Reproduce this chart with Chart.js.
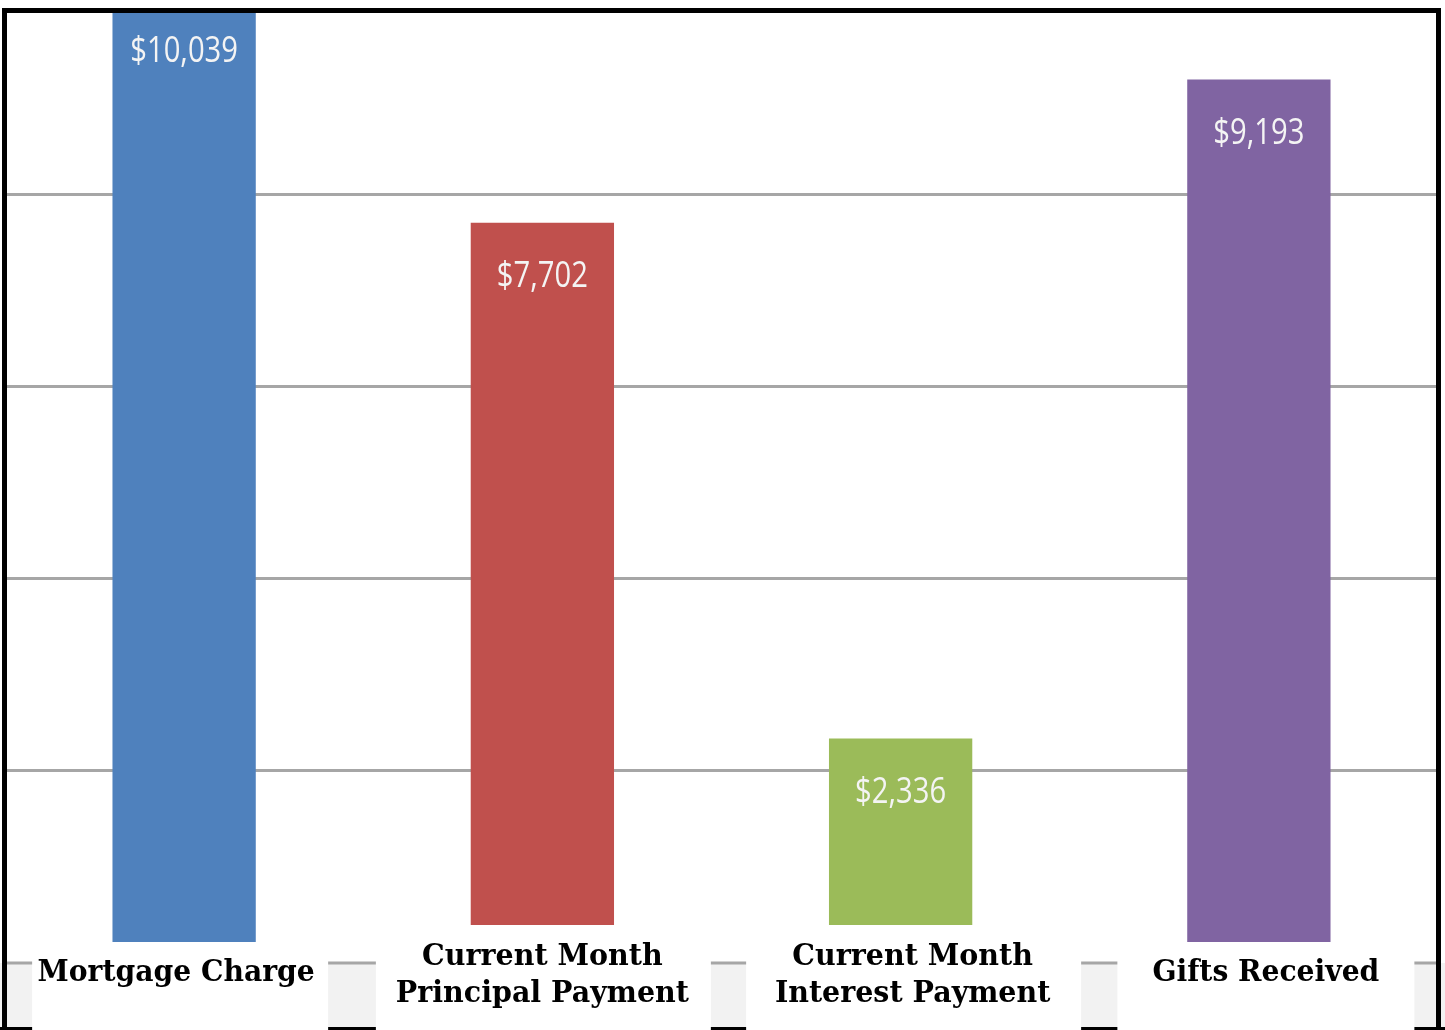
<!DOCTYPE html>
<html>
<head>
<meta charset="utf-8">
<script src="https://cdn.jsdelivr.net/npm/chart.js@4"></script>
<style>
  html, body { margin: 0; padding: 0; background: #fff; }
  #wrap { width: 1445px; height: 1030px; position: relative; }
</style>
</head>
<body>
<div id="wrap"><canvas id="myChart"></canvas></div>
<script>
// data
const categories = [
  ["Mortgage Charge"],
  ["Current Month", "Principal Payment"],
  ["Current Month", "Interest Payment"],
  ["Gifts Received"],
];
const amounts = [10039, 7702, 2336, 9193];
const barColors = ["#4f81bd", "#c0504d", "#9bbb59", "#8064a2"];
const yTicks = [0, 2000, 4000, 6000, 8000, 10000];

// label box layout (white boxes behind the category names)
const boxWidth = [296, 335, 335, 297];
const boxShift = [-4, 1, 13, 7];
const textShift = [-8, 0, 12, 7];

const fmt = (v) => "$" + v.toLocaleString("en-US");

// draw text squeezed horizontally around its center
function narrowText(ctx, str, x, y, sx) {
  ctx.save();
  ctx.translate(x, y);
  ctx.scale(sx, 1);
  ctx.fillText(str, 0, 0);
  ctx.restore();
}

const labelPlugin = {
  id: "labelPlugin",
  afterDatasetsDraw(chart) {
    const ctx = chart.ctx;
    const area = chart.chartArea;
    const xs = chart.scales.x;
    const base = chart.scales.y.getPixelForValue(0);
    const W = chart.width;
    const H = chart.height;

    ctx.save();
    // band under the baseline
    ctx.fillStyle = "#f2f2f2";
    ctx.fillRect(0, base, W, H - base);
    ctx.fillStyle = "#000";
    ctx.fillRect(0, H - 3, W, 3);
    ctx.strokeStyle = "#a6a6a6";
    ctx.lineWidth = 3;
    ctx.beginPath();
    ctx.moveTo(area.left, base);
    ctx.lineTo(area.right, base);
    ctx.stroke();

    // category labels
    ctx.font = "bold 30px 'DejaVu Serif'";
    ctx.textAlign = "center";
    ctx.textBaseline = "alphabetic";
    categories.forEach((lines, i) => {
      const cx = xs.getPixelForValue(i);
      const top = lines.length > 1 ? 925 : 942;
      ctx.fillStyle = "#fff";
      ctx.fillRect(cx + boxShift[i] - boxWidth[i] / 2, top, boxWidth[i], H - top);
      ctx.fillStyle = "#000";
      if (lines.length > 1) {
        narrowText(ctx, lines[0], cx + textShift[i], 965, 0.95);
        narrowText(ctx, lines[1], cx + textShift[i], 1002, 0.95);
      } else {
        narrowText(ctx, lines[0], cx + textShift[i], 981, 0.94);
      }
    });

    // value labels inside the bars
    const meta = chart.getDatasetMeta(0);
    ctx.font = "37px 'Open Sans'";
    ctx.fillStyle = "#f4f4f4";
    meta.data.forEach((bar, i) => {
      const topY = chart.scales.y.getPixelForValue(amounts[i]);
      narrowText(ctx, fmt(amounts[i]), bar.x, topY + 64, 0.79);
    });

    // frame
    ctx.fillStyle = "#fff";
    ctx.fillRect(0, 0, W, 8);
    ctx.fillStyle = "#000";
    ctx.fillRect(2, 8, W - 6, 5);
    ctx.fillRect(2, 8, 5, H - 8);
    ctx.fillRect(1436, 8, 5, H - 8);
    ctx.restore();
  },
};

const ctx = document.getElementById("myChart").getContext("2d");
const myChart = new Chart(ctx, {
  type: "bar",
  data: {
    labels: categories,
    datasets: [
      {
        data: amounts,
        backgroundColor: barColors,
        borderWidth: 0,
        barPercentage: 0.4,
        categoryPercentage: 1,
      },
    ],
  },
  options: {
    responsive: true,
    maintainAspectRatio: false,
    animation: false,
    layout: { padding: { left: 5, right: 7, top: 2, bottom: 67 } },
    plugins: {
      legend: { display: false },
      tooltip: { enabled: false },
    },
    scales: {
      x: { display: false },
      y: {
        min: 0,
        max: 10000,
        afterBuildTicks: (axis) => {
          axis.ticks = yTicks.map((v) => ({ value: v }));
        },
        ticks: { display: false },
        border: { display: false },
        grid: { color: "#a6a6a6", lineWidth: 3, drawTicks: false },
      },
    },
  },
  plugins: [labelPlugin],
});
</script>
</body>
</html>
